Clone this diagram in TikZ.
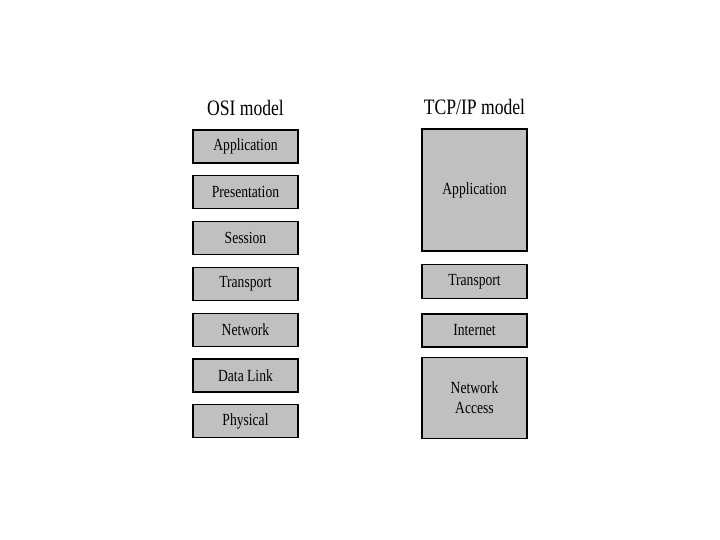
\documentclass[tikz,border=0pt]{standalone}
\usepackage{fontspec}
\setmainfont{Liberation Serif}[FakeStretch=0.8]
\usetikzlibrary{positioning}
\definecolor{layerfill}{RGB}{192,192,192}

\begin{document}
\begin{tikzpicture}[
    x=1bp, y=-1bp,
    node distance=11.6bp,
    layer/.style={rectangle, draw, line width=1.2bp, fill=layerfill, minimum width=105bp, minimum height=33bp, inner sep=0pt, text centered, font=\fontsize{17bp}{20bp}\selectfont},
    title/.style={font=\fontsize{22bp}{26bp}\selectfont}
]
\useasboundingbox (0,0) rectangle (720,540);

% OSI model
\node[layer] (osiapp) at (245.5,146.5) {Application};
\node[layer, below=of osiapp] (osipres) {Presentation};
\node[layer, below=of osipres] (osisess) {Session};
\node[layer, below=of osisess] (ositrans) {Transport};
\node[layer, below=of ositrans] (osinet) {Network};
\node[layer, below=of osinet] (osilink) {Data Link};
\node[layer, below=of osilink] (osiphys) {Physical};
\node[title, above=10bp of osiapp] (osititle) {OSI model};

% TCP/IP model
\node[layer, minimum height=122bp] (tcpapp) at (474.5,190) {Application};
\node[layer, minimum height=34bp, below=12.5bp of tcpapp] (tcptrans) {Transport};
\node[layer, below=14bp of tcptrans] (tcpinet) {Internet};
\node[layer, minimum height=81bp, align=center, below=9bp of tcpinet] (tcpaccess) {Network\\Access};
\node[title, above=10bp of tcpapp] (tcptitle) {TCP/IP model};

\end{tikzpicture}
\end{document}
